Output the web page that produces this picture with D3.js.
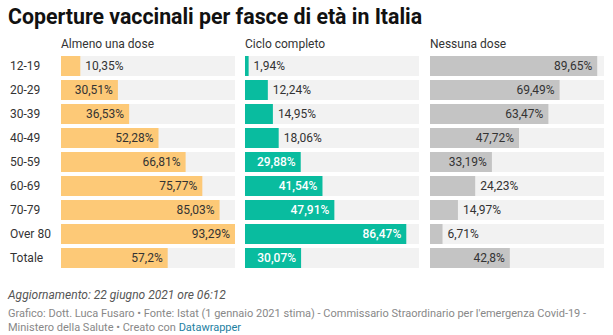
<!DOCTYPE html>
<html>
<head>
<meta charset="utf-8">
<script src="https://cdn.jsdelivr.net/npm/d3@7"></script>
<style>
  body { margin: 0; background: #fff; }
  svg text { font-family: Roboto, "Noto Sans", sans-serif; }
</style>
</head>
<body>
<div id="chart"></div>
<script>
const ages = ["12-19", "20-29", "30-39", "40-49", "50-59", "60-69", "70-79", "Over 80", "Totale"];
const almenoUnaDose = [10.35, 30.51, 36.53, 52.28, 66.81, 75.77, 85.03, 93.29, 57.2];
const cicloCompleto = [1.94, 12.24, 14.95, 18.06, 29.88, 41.54, 47.91, 86.47, 30.07];
const nessunaDose = [89.65, 69.49, 63.47, 47.72, 33.19, 24.23, 14.97, 6.71, 42.8];
const columnTitles = ["Almeno una dose", "Ciclo completo", "Nessuna dose"];

const columns = [
  { title: columnTitles[0], values: almenoUnaDose, color: "#fdc977", text: "#333", left: 61 },
  { title: columnTitles[1], values: cicloCompleto, color: "#09bc9f", text: "#fff", left: 245 },
  { title: columnTitles[2], values: nessunaDose, color: "#c4c4c4", text: "#333", left: 430 },
];

const width = 613;
const height = 335;
const colWidth = 174;

const svg = d3.select("#chart")
  .append("svg")
  .attr("width", width)
  .attr("height", height);

// title
svg.append("text")
  .attr("x", 8)
  .attr("y", 24)
  .attr("font-size", 21.3)
  .attr("font-weight", 700)
  .attr("fill", "#111")
  .text("Coperture vaccinali per fasce di età in Italia");

const allValues = [...almenoUnaDose, ...cicloCompleto, ...nessunaDose];
const x = d3.scaleLinear().domain([0, d3.max(allValues)]).range([0, colWidth]);

const y = d3.scaleBand()
  .domain(ages)
  .range([56, 56 + ages.length * 24 - 4])
  .paddingInner(4 / 24)
  .paddingOuter(0);

const fmt = (v) => String(v).replace(".", ",") + "%";

// row labels
svg.selectAll("text.row")
  .data(ages)
  .enter()
  .append("text")
  .attr("class", "row")
  .attr("x", 10)
  .attr("y", (d) => y(d) + y.bandwidth() / 2)
  .attr("dy", "0.35em")
  .attr("font-size", 12)
  .attr("fill", "#333")
  .text((d) => d);

columns.forEach((col) => {
  const g = svg.append("g").attr("transform", `translate(${col.left},0)`);

  g.append("text")
    .attr("x", 0)
    .attr("y", 48)
    .attr("font-size", 12)
    .attr("fill", "#333")
    .text(col.title);

  const rows = g.selectAll("g.bar")
    .data(ages.map((a, i) => ({ age: a, value: col.values[i] })))
    .enter()
    .append("g")
    .attr("class", "bar");

  rows.append("rect")
    .attr("x", 0)
    .attr("y", (d) => y(d.age))
    .attr("width", colWidth)
    .attr("height", y.bandwidth())
    .attr("fill", "#f2f2f2");

  rows.append("rect")
    .attr("x", 0)
    .attr("y", (d) => y(d.age))
    .attr("width", (d) => x(d.value))
    .attr("height", y.bandwidth())
    .attr("fill", col.color);

  rows.append("text")
    .attr("y", (d) => y(d.age) + y.bandwidth() / 2)
    .attr("dy", "0.35em")
    .attr("font-size", 12)
    .text((d) => fmt(d.value))
    .each(function (d) {
      const t = d3.select(this);
      const w = this.getComputedTextLength();
      const bw = x(d.value);
      if (bw > w + 10) {
        t.attr("x", bw - 5)
          .attr("text-anchor", "end")
          .attr("fill", col.text)
          .attr("font-weight", col.text === "#fff" ? 500 : 400);
      } else {
        t.attr("x", bw + 5)
          .attr("text-anchor", "start")
          .attr("fill", "#333");
      }
    });
});

// footer
svg.append("text")
  .attr("x", 8)
  .attr("y", 299)
  .attr("font-size", 12)
  .attr("font-style", "italic")
  .attr("fill", "#555")
  .text("Aggiornamento: 22 giugno 2021 ore 06:12");

svg.append("text")
  .attr("x", 8)
  .attr("y", 317)
  .attr("font-size", 11)
  .attr("fill", "#888")
  .text("Grafico: Dott. Luca Fusaro • Fonte: Istat (1 gennaio 2021 stima) - Commissario Straordinario per l'emergenza Covid-19 -");

const last = svg.append("text")
  .attr("x", 8)
  .attr("y", 331)
  .attr("font-size", 11)
  .attr("fill", "#888");
last.append("tspan").text("Ministero della Salute • Creato con ");
last.append("tspan").attr("fill", "#1d81a2").text("Datawrapper");
</script>
</body>
</html>
